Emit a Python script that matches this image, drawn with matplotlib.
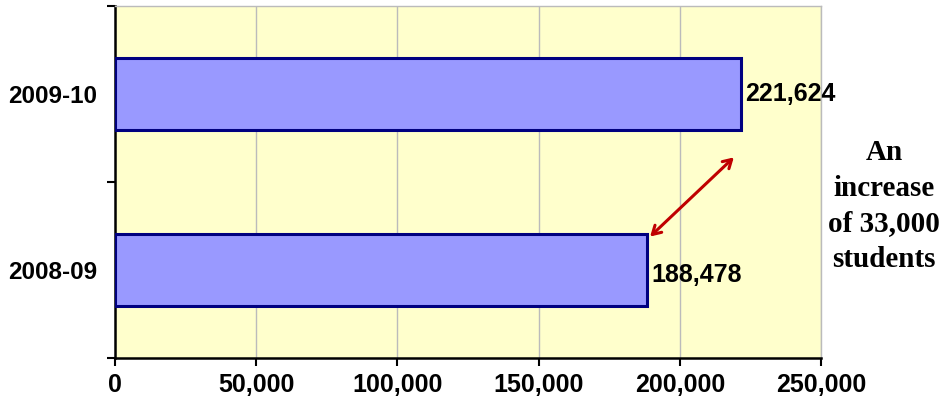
import matplotlib.pyplot as plt
from matplotlib.ticker import FuncFormatter

# datos
years = ['2008-09', '2009-10']
students = [188478, 221624]
x_ticks = [0, 50000, 100000, 150000, 200000, 250000]
note = 'An\nincrease\nof 33,000\nstudents'

fig = plt.figure(figsize=(9.41, 4.09), dpi=100)
ax = fig.add_axes([0.1222, 0.1247, 0.7503, 0.8606])
ax.set_facecolor('#FFFFCC')

pos = list(range(len(years)))
ax.barh(pos, students, height=0.41, color='#9999FF', edgecolor='#000080',
        linewidth=2.2, zorder=3)

for p, v in zip(pos, students):
    dy = -0.03 if p == 0 else 0.0
    ax.text(v + 1500, p + dy, f'{v:,}', va='center', ha='left',
            fontsize=18, fontweight='bold', family='Liberation Sans', zorder=4)

# flecha doble entre las barras
ax.annotate('', xy=(students[1] - 2500, 0.64), xytext=(students[0] + 1000, 0.19),
            arrowprops=dict(arrowstyle='<->,head_length=0.6,head_width=0.35',
                            color='#C00000', lw=2.2, shrinkA=0, shrinkB=0),
            zorder=5)

ax.set_xlim(0, 250000)
ax.set_ylim(-0.5, 1.5)
ax.set_xticks(x_ticks)
ax.xaxis.set_major_formatter(FuncFormatter(lambda v, _: f'{int(v):,}'))
ax.set_yticks([-0.5, 0.5, 1.5])
ax.set_yticklabels([])
ax.set_yticks(pos, minor=True)
ax.set_yticklabels(years, minor=True)
ax.tick_params(axis='y', which='minor', length=0, pad=13)
ax.tick_params(axis='y', which='major', length=6, width=1.5, direction='out')
ax.tick_params(axis='x', length=6, width=1.5, direction='out', pad=5)
for lbl in ax.get_xticklabels():
    lbl.set_fontsize(18)
    lbl.set_fontweight('bold')
    lbl.set_family('Liberation Sans')
for lbl in ax.get_yticklabels(minor=True):
    lbl.set_fontsize(17.5)
    lbl.set_fontweight('bold')
    lbl.set_family('Liberation Sans')

ax.grid(axis='x', color='#BBBBBB', linewidth=1, zorder=0)
ax.spines['left'].set_linewidth(1.8)
ax.spines['bottom'].set_linewidth(1.8)
ax.spines['top'].set_color('#BBBBBB')
ax.spines['right'].set_color('#BBBBBB')
ax.spines['top'].set_linewidth(1)
ax.spines['right'].set_linewidth(1)

fig.text(884 / 941, 1 - 206 / 409, note, ha='center', va='center',
         fontsize=21, fontweight='bold', family='Liberation Serif',
         linespacing=1.4)

fig.savefig('out.png', dpi=100)
